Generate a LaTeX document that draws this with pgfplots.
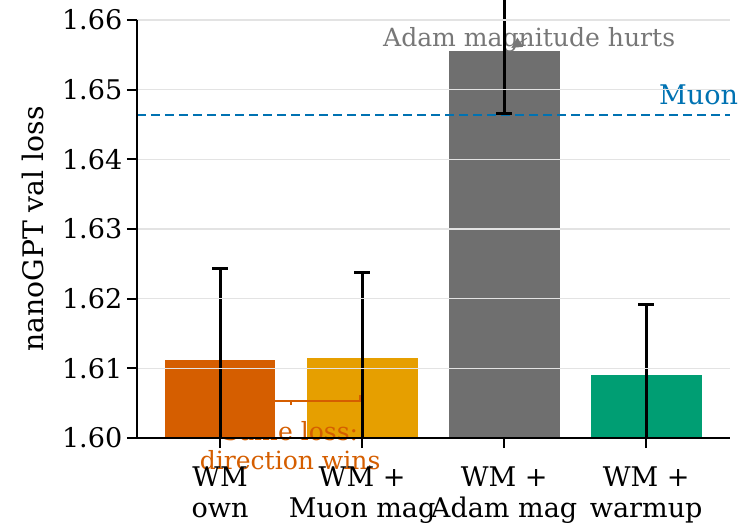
\documentclass[border=0pt]{standalone}
\usepackage{fontspec}
\setmainfont{DejaVu Serif}
\usepackage{pgfplots}
\pgfplotsset{compat=1.18}
\usetikzlibrary{arrows.meta}

\definecolor{cOwn}{HTML}{D55E00}
\definecolor{cMuon}{HTML}{E69F00}
\definecolor{cAdam}{HTML}{6F6F6F}
\definecolor{cWarm}{HTML}{009E73}
\definecolor{cLine}{HTML}{0072B2}
\definecolor{cNote}{HTML}{777777}
\definecolor{cGrid}{HTML}{E3E3E3}

% shared frame for the two stacked axes (1px = 0.75pt)
\pgfplotsset{
  frame/.style={
    width=444.75pt, height=313.5pt, scale only axis,
    xmin=-0.585, xmax=3.59, ymin=1.60, ymax=1.66,
  },
}
\newcommand{\ticksize}{\fontsize{20.3}{23.25}\selectfont}
\newcommand{\notesize}{\fontsize{18.8}{21.75}\selectfont}

\begin{document}
\begin{tikzpicture}[font=\ticksize]
\useasboundingbox (-102.75pt,-63pt) rectangle (450.75pt,328.5pt);

% bars only (clipped at y = 1.60)
\begin{axis}[frame, hide axis, ybar, bar width=0.78, bar shift=0pt]
\addplot[fill=cOwn,  draw=none] coordinates {(0,1.6112)};
\addplot[fill=cMuon, draw=none] coordinates {(1,1.6115)};
\addplot[fill=cAdam, draw=none] coordinates {(2,1.6555)};
\addplot[fill=cWarm, draw=none] coordinates {(3,1.6090)};
\end{axis}

% axes, grid, reference line, error bars, notes
\begin{axis}[frame, axis on top, clip=false,
  axis x line*=bottom, axis y line*=left,
  axis line style={-, line width=1.3pt, black},
  tick style={black, line width=1.3pt},
  major tick length=7.5pt, tick align=outside,
  xtick={0,1,2,3},
  xticklabels={{WM\\own},{WM +\\Muon mag},{WM +\\Adam mag},{WM +\\warmup}},
  xticklabel style={align=center, font=\ticksize, yshift=-10.5pt},
  yticklabel style={font=\ticksize},
  ytick={1.60,1.61,1.62,1.63,1.64,1.65,1.66},
  yticklabel style={/pgf/number format/fixed, /pgf/number format/fixed zerofill,
    /pgf/number format/precision=2},
  /pgf/number format/assume math mode=true,
  ymajorgrids, major grid style={cGrid, line width=1.1pt},
  ylabel={nanoGPT val loss},
  ylabel style={at={(axis description cs:-0.175,0.5)}, anchor=center,
    font=\fontsize{21.2}{25}\selectfont},
]
\addplot[cLine, line width=1.5pt, dash pattern=on 7pt off 3.5pt]
  coordinates {(-0.585,1.6463) (3.59,1.6463)};
\node[cLine, anchor=east] at (axis cs:3.68,1.6492) {Muon};

\node[cNote, font=\notesize] at (axis cs:2.176,1.6571) {Adam magnitude hurts};
\draw[cNote, line width=0.8pt, -{Triangle[length=8pt,width=8pt]}]
  (axis cs:2.16,1.6574) -- (axis cs:2.05,1.6560);

\draw[cOwn, line width=1.2pt] (axis cs:0.014,1.6062) -- (axis cs:0.014,1.6053)
  -- (axis cs:0.986,1.6053) -- (axis cs:0.986,1.6062);
\draw[cOwn, line width=1.2pt] (axis cs:0.5,1.6053) -- (axis cs:0.5,1.6047);
\node[cOwn, align=center, font=\notesize] at (axis cs:0.493,1.5989)
  {Same loss:\\direction wins};

% upper halves, with caps
\addplot[draw=none, mark=none, error bars/.cd, y dir=plus, y explicit,
  error bar style={line width=2.2pt, black},
  error mark options={rotate=90, mark size=6pt, line width=2.2pt, black}]
  coordinates {(0,1.6112) +- (0,0.0131) (1,1.6115) +- (0,0.0122)
               (2,1.6555) +- (0,0.0089) (3,1.6090) +- (0,0.0102)};
% lower halves: the first, second and fourth run into the axis
\addplot[draw=none, mark=none, error bars/.cd, y dir=minus, y explicit,
  error bar style={line width=2.2pt, black}, error mark=none]
  coordinates {(0,1.6112) +- (0,0.0112) (1,1.6115) +- (0,0.0115)
               (3,1.6090) +- (0,0.0090)};
\addplot[draw=none, mark=none, error bars/.cd, y dir=minus, y explicit,
  error bar style={line width=2.2pt, black},
  error mark options={rotate=90, mark size=6pt, line width=2.2pt, black}]
  coordinates {(2,1.6555) +- (0,0.0089)};
\end{axis}
\end{tikzpicture}
\end{document}
